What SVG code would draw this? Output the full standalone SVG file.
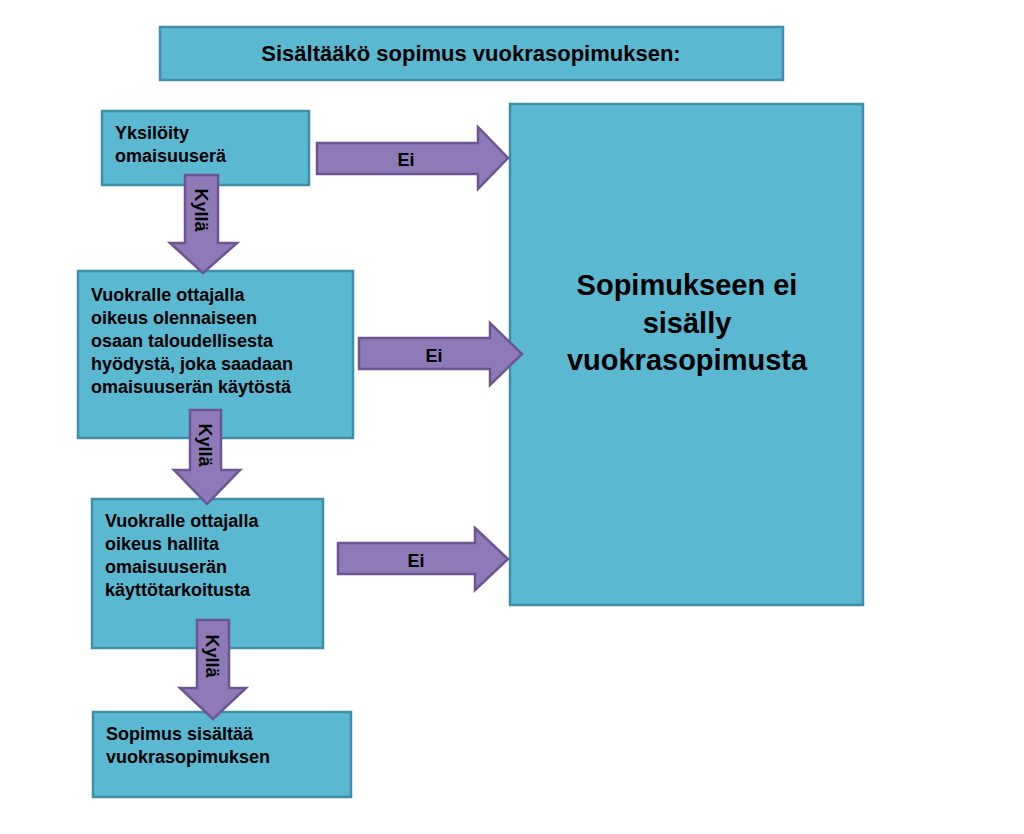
<svg xmlns="http://www.w3.org/2000/svg" width="1024" height="834" viewBox="0 0 1024 834">
<style>
.box{fill:#5BB8D1;stroke:#3F8FA6;stroke-width:2.5}
.arr{fill:#8F7AB7;stroke:#6B5693;stroke-width:2.5}
text{font-family:"Liberation Sans",Arial,sans-serif;font-weight:bold;fill:#000}
.t{font-size:18px}
</style>
<rect width="1024" height="834" fill="#fff"/>
<g id="title"><rect class="box" x="160" y="27" width="623" height="53"/><text x="471" y="61" text-anchor="middle" font-size="22">Sisältääkö sopimus vuokrasopimuksen:</text></g>
<g id="result"><rect class="box" x="510" y="104" width="353" height="501"/><text text-anchor="middle" font-size="29"><tspan x="687" y="295">Sopimukseen ei</tspan><tspan x="687" y="333">sisälly</tspan><tspan x="687" y="370">vuokrasopimusta</tspan></text></g>
<g id="box1"><rect class="box" x="102" y="111" width="207" height="74"/><text class="t"><tspan x="115" y="139">Yksilöity</tspan><tspan x="115" y="162">omaisuuserä</tspan></text></g>
<g id="box2"><rect class="box" x="78" y="271" width="275" height="167"/><text class="t"><tspan x="91" y="301">Vuokralle ottajalla</tspan><tspan x="91" y="324">oikeus olennaiseen</tspan><tspan x="91" y="347">osaan taloudellisesta</tspan><tspan x="91" y="370">hyödystä, joka saadaan</tspan><tspan x="91" y="393">omaisuuserän käytöstä</tspan></text></g>
<g id="box3"><rect class="box" x="92" y="499" width="231" height="149"/><text class="t"><tspan x="105" y="527">Vuokralle ottajalla</tspan><tspan x="105" y="550">oikeus hallita</tspan><tspan x="105" y="573">omaisuuserän</tspan><tspan x="105" y="596">käyttötarkoitusta</tspan></text></g>
<g id="box4"><rect class="box" x="93" y="712" width="258" height="85"/><text class="t"><tspan x="106" y="740">Sopimus sisältää</tspan><tspan x="106" y="763">vuokrasopimuksen</tspan></text></g>
<g id="connectors">
<path class="arr" d="M317 143H478V127L508 158L478 189V174H317Z"/><text class="t" x="406" y="166" text-anchor="middle">Ei</text>
<path class="arr" d="M359 338H490V323L522 354L490 385V369H359Z"/><text class="t" x="434" y="362" text-anchor="middle">Ei</text>
<path class="arr" d="M338 543H475V528L508 559L475 590V574H338Z"/><text class="t" x="416" y="567" text-anchor="middle">Ei</text>
<path class="arr" d="M185 175H218V243H237L203 273L170 243H185Z"/><text class="t" transform="translate(195,210) rotate(90)" text-anchor="middle">Kyllä</text>
<path class="arr" d="M190 410H221V470H240L207 504L174 470H190Z"/><text class="t" transform="translate(199,445) rotate(90)" text-anchor="middle">Kyllä</text>
<path class="arr" d="M197 620H229V688H246L213 719L180 688H197Z"/><text class="t" transform="translate(206,656) rotate(90)" text-anchor="middle">Kyllä</text>
</g>
</svg>
